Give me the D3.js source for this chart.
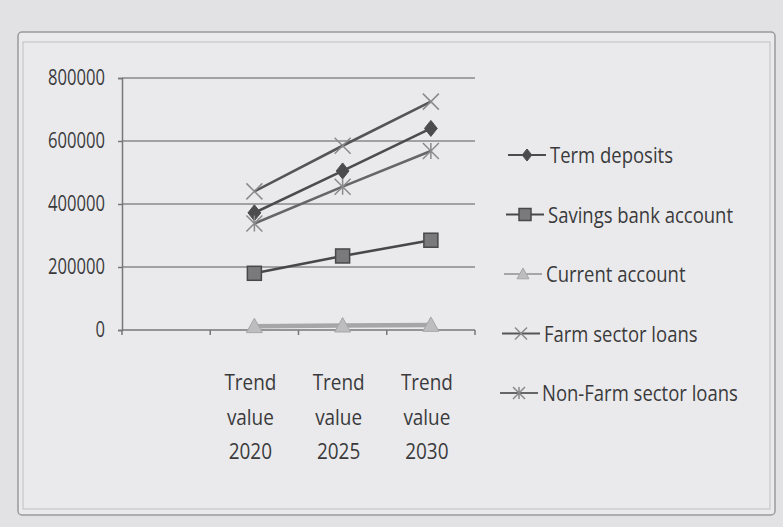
<!DOCTYPE html>
<html>
<head>
<meta charset="utf-8">
<script src="https://cdn.jsdelivr.net/npm/d3@7"></script>
<style>
  body { margin: 0; background: #e2e2e4; }
  svg { display: block; }
  text { font-family: "Open Sans", "DejaVu Sans", sans-serif; fill: #3a3a3c; }
</style>
</head>
<body>
<svg id="chart" width="783" height="527"></svg>
<script>
// data
const categories = ['', 'Trend value 2020', 'Trend value 2025', 'Trend value 2030'];
const seriesNames = ['Term deposits', 'Savings bank account', 'Current account', 'Farm sector loans', 'Non-Farm sector loans'];
const termDeposits = [null, 372000, 505000, 640000];
const savingsBank = [null, 180000, 235000, 285000];
const currentAccount = [null, 12000, 14000, 16000];
const farmLoans = [null, 440000, 585000, 725000];
const nonFarmLoans = [null, 338000, 455000, 568000];
const yTicks = [0, 200000, 400000, 600000, 800000];

const series = [
  { name: seriesNames[0], values: termDeposits, color: '#4c4c4e', marker: 'diamond' },
  { name: seriesNames[1], values: savingsBank, color: '#48484a', marker: 'square' },
  { name: seriesNames[2], values: currentAccount, color: '#a6a6a8', marker: 'triangle' },
  { name: seriesNames[3], values: farmLoans, color: '#555557', marker: 'cross' },
  { name: seriesNames[4], values: nonFarmLoans, color: '#666668', marker: 'star' }
];

const svg = d3.select('#chart');
const margin = { left: 122, right: 308, top: 78, bottom: 197 };
const W = 783, H = 527;

// the picture uses a narrow font: squeeze glyphs horizontally, anchor kept
function squeeze(sel, k) {
  sel.each(function() {
    const w = this.getComputedTextLength();
    d3.select(this).attr('textLength', w * k).attr('lengthAdjust', 'spacingAndGlyphs');
  });
}

// chart frame
svg.append('rect')
  .attr('x', 18).attr('y', 32)
  .attr('width', 757).attr('height', 483)
  .attr('rx', 4)
  .attr('fill', '#eaeaec')
  .attr('stroke', '#9a9a9c')
  .attr('stroke-width', 1.5);
svg.append('rect')
  .attr('x', 23).attr('y', 42)
  .attr('width', 747).attr('height', 467)
  .attr('fill', 'none')
  .attr('stroke', '#c0c0c2')
  .attr('stroke-width', 1);

const x = d3.scaleBand()
  .domain(categories)
  .range([margin.left, W - margin.right])
  .padding(0);

const y = d3.scaleLinear()
  .domain([0, 800000])
  .range([H - margin.bottom, margin.top]);

// gridlines
svg.append('g')
  .selectAll('line')
  .data(yTicks.filter(d => d > 0))
  .join('line')
  .attr('x1', margin.left).attr('x2', W - margin.right)
  .attr('y1', d => y(d)).attr('y2', d => y(d))
  .attr('stroke', '#88888a')
  .attr('stroke-width', 1.5);

// y axis
const yAxis = svg.append('g')
  .attr('transform', `translate(${margin.left},0)`)
  .call(d3.axisLeft(y).tickValues(yTicks).tickSize(4).tickPadding(13).tickFormat(d3.format('d')));
yAxis.selectAll('text').style('font-size', '21px').attr('fill', '#3a3a3c').call(squeeze, 0.79);
yAxis.selectAll('line, path').attr('stroke', '#777779').attr('stroke-width', 1.5);

// x axis: ticks on category boundaries
const xBase = y(0);
svg.append('line')
  .attr('x1', margin.left).attr('x2', W - margin.right)
  .attr('y1', xBase).attr('y2', xBase)
  .attr('stroke', '#777779').attr('stroke-width', 1.5);
const bounds = categories.map(c => x(c)).concat([x(categories[categories.length - 1]) + x.bandwidth()]);
svg.append('g')
  .selectAll('line')
  .data(bounds)
  .join('line')
  .attr('x1', d => d).attr('x2', d => d)
  .attr('y1', xBase).attr('y2', xBase + 5)
  .attr('stroke', '#777779').attr('stroke-width', 1.5);

// x labels wrapped into three lines
const xlab = svg.append('g');
categories.filter(c => c).forEach(d => {
  d.split(' ').forEach((part, i) => {
    xlab.append('text')
      .attr('x', x(d) + x.bandwidth() / 2 - 4)
      .attr('y', xBase + 60 + i * 34.5)
      .attr('text-anchor', 'middle')
      .style('font-size', '22px')
      .text(part)
      .call(squeeze, 0.86);
  });
});

// markers
function drawMarker(g, type, color, cx, cy, s) {
  if (type === 'diamond') {
    g.append('path').attr('d', `M${cx},${cy - s}L${cx + s * 0.8},${cy}L${cx},${cy + s}L${cx - s * 0.8},${cy}Z`)
      .attr('fill', color).attr('stroke', color);
  } else if (type === 'square') {
    g.append('rect').attr('x', cx - s).attr('y', cy - s).attr('width', 2 * s).attr('height', 2 * s)
      .attr('fill', '#7a7a7c').attr('stroke', color).attr('stroke-width', 1.5);
  } else if (type === 'triangle') {
    g.append('path').attr('d', `M${cx},${cy - s}L${cx + s},${cy + s * 0.8}L${cx - s},${cy + s * 0.8}Z`)
      .attr('fill', '#bdbdbf').attr('stroke', color);
  } else if (type === 'cross') {
    g.append('path').attr('d', `M${cx - s},${cy - s}L${cx + s},${cy + s}M${cx - s},${cy + s}L${cx + s},${cy - s}`)
      .attr('stroke', '#8a8a8c').attr('stroke-width', 1.5);
  } else if (type === 'star') {
    g.append('path').attr('d', `M${cx - s},${cy - s}L${cx + s},${cy + s}M${cx - s},${cy + s}L${cx + s},${cy - s}M${cx},${cy - s}L${cx},${cy + s}`)
      .attr('stroke', '#8a8a8c').attr('stroke-width', 1.5);
  }
}

const line = d3.line()
  .defined(d => d.v !== null)
  .x(d => x(d.c) + x.bandwidth() / 2)
  .y(d => y(d.v));

series.forEach(s => {
  const pts = categories.map((c, i) => ({ c, v: s.values[i] }));
  svg.append('path')
    .datum(pts)
    .attr('d', line)
    .attr('fill', 'none')
    .attr('stroke', s.color)
    .attr('stroke-width', s.marker === 'triangle' ? 4.5 : 2.6);
  const g = svg.append('g');
  pts.filter(p => p.v !== null).forEach(p => {
    drawMarker(g, s.marker, s.color, x(p.c) + x.bandwidth() / 2, y(p.v), s.marker === 'square' ? 7 : 8);
  });
});

// legend
const legend = svg.append('g');
series.forEach((s, i) => {
  const ly = 155 + i * 59.5;
  const lx = 508 - i * 2;
  legend.append('line')
    .attr('x1', lx).attr('x2', lx + 38)
    .attr('y1', ly).attr('y2', ly)
    .attr('stroke', s.color).attr('stroke-width', 2.2);
  drawMarker(legend, s.marker, s.color, lx + 19, ly, 6);
  legend.append('text')
    .attr('x', lx + 42)
    .attr('y', ly + 8)
    .style('font-size', '22px')
    .text(s.name)
    .call(squeeze, 0.84);
});
</script>
</body>
</html>
